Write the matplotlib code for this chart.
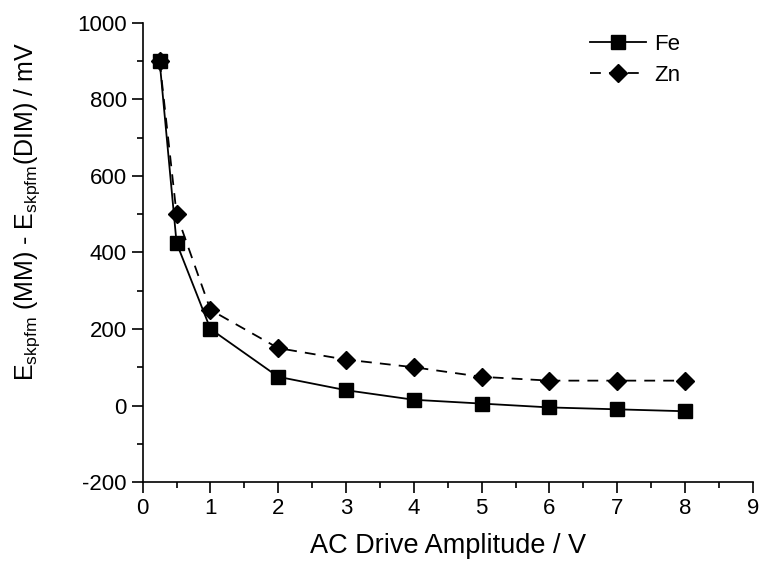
import matplotlib
matplotlib.use("Agg")
import matplotlib.pyplot as plt
from matplotlib.ticker import MultipleLocator

plt.rcParams['font.family'] = ['Liberation Sans', 'DejaVu Sans']
plt.rcParams['mathtext.fontset'] = 'custom'
plt.rcParams['mathtext.rm'] = 'Liberation Sans'
plt.rcParams['mathtext.it'] = 'Liberation Sans:italic'
plt.rcParams['axes.unicode_minus'] = False

# data
amp = [0.25, 0.5, 1, 2, 3, 4, 5, 6, 7, 8]
fe = [900, 425, 200, 75, 40, 15, 5, -5, -10, -15]
zn = [900, 500, 250, 150, 120, 100, 75, 65, 65, 65]

fig = plt.figure(figsize=(7.65, 5.66), dpi=100)
ax = fig.add_axes([0.1865, 0.1484, 0.7975, 0.811])

ax.plot(amp, fe, color='black', lw=1.3, marker='s', ms=10, label='Fe')
ax.plot(amp, zn, color='black', lw=1.3, ls=(0, (6, 4.5)), marker='D', ms=9, label='Zn')

ax.set_xlim(0, 9)
ax.set_ylim(-200, 1000)
ax.xaxis.set_major_locator(MultipleLocator(1))
ax.xaxis.set_minor_locator(MultipleLocator(0.5))
ax.yaxis.set_major_locator(MultipleLocator(200))
ax.yaxis.set_minor_locator(MultipleLocator(100))

for s in ['top', 'right']:
    ax.spines[s].set_visible(False)
for s in ['left', 'bottom']:
    ax.spines[s].set_linewidth(1.2)

ax.tick_params(which='major', direction='out', length=8, width=1.2, labelsize=16)
ax.tick_params(which='minor', direction='out', length=4, width=1.2)

ax.set_xlabel('AC Drive Amplitude / V', fontsize=19.5, labelpad=10)
ax.set_ylabel(r'E$_{\mathrm{skpfm}}$ (MM) - E$_{\mathrm{skpfm}}$(DIM) / mV', fontsize=18)
ax.yaxis.set_label_coords(-0.165, 0.59)

ax.legend(loc='upper left', bbox_to_anchor=(0.70, 1.02), frameon=False,
          fontsize=16, handlelength=2.55, handletextpad=0.36, labelspacing=0.45)

fig.savefig('out.png', dpi=100)
